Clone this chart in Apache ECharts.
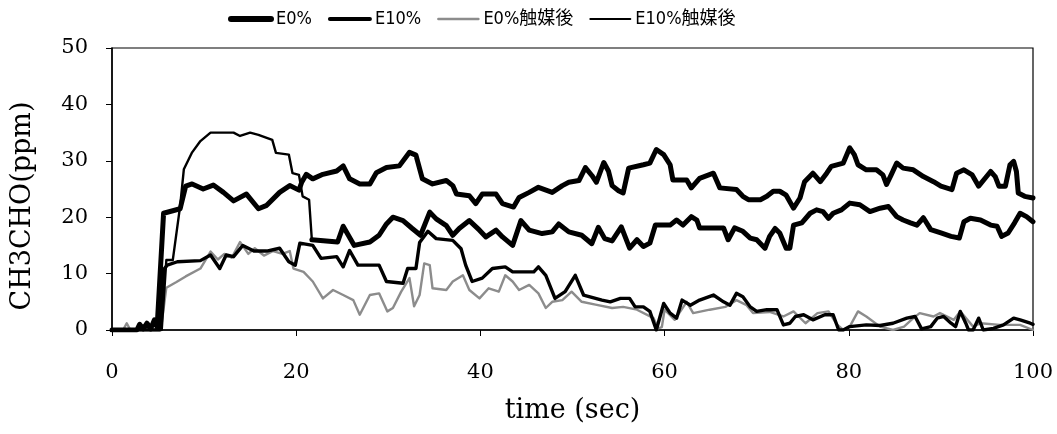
<!DOCTYPE html>
<html><head><meta charset="utf-8">
<script src="https://cdn.jsdelivr.net/npm/echarts@6/dist/echarts.min.js"></script>
<style>html,body{margin:0;padding:0;background:#fff}#c{width:1057px;height:434px}</style>
</head><body><div id="c"></div>
<script>
const seriesNames = ['E0%', 'E10%', 'E0%触媒後', 'E10%触媒後'];
const xTickInterval = 20;
const yTickInterval = 10;

// [time (sec), CH3CHO (ppm)]
const e0 = [[0,0],[2.7,0],[3.0,1.0],[3.4,0.2],[3.8,1.2],[4.2,0.2],[4.6,1.8],[4.9,0.5],[5.1,0.5],[5.6,20.7],[7.4,21.5],[8.0,25.5],[8.7,25.9],[9.9,25.0],[11.0,25.7],[12.1,24.4],[13.2,22.9],[14.6,24.1],[15.9,21.5],[16.8,22.1],[18.2,24.4],[19.3,25.6],[20.3,24.8],[20.6,26.2],[21.1,27.6],[21.8,26.8],[22.9,27.6],[24.4,28.2],[25.1,29.1],[25.8,26.8],[26.9,25.9],[28.0,25.9],[28.7,27.9],[29.8,28.8],[31.2,29.1],[32.3,31.5],[33.0,31.0],[33.7,26.8],[34.8,25.9],[36.3,26.5],[37.0,25.6],[37.4,24.1],[38.8,23.8],[39.5,22.4],[40.2,24.1],[41.7,24.1],[42.4,22.4],[43.6,21.8],[44.2,23.5],[45.3,24.4],[46.3,25.3],[47.8,24.4],[48.9,25.6],[49.6,26.2],[50.7,26.5],[51.4,28.8],[52.1,27.4],[52.6,26.2],[53.4,29.7],[53.9,28.2],[54.3,25.6],[55.0,24.7],[55.5,24.3],[56.1,28.7],[57.7,29.3],[58.4,29.6],[59.1,32.0],[59.9,31.1],[60.6,29.3],[60.9,26.6],[62.4,26.6],[62.9,25.2],[63.8,26.9],[65.3,27.8],[66.0,25.2],[67.8,24.9],[68.5,23.7],[69.1,23.1],[70.4,23.1],[71.1,23.7],[71.8,24.6],[72.5,24.6],[73.2,23.9],[74.0,21.6],[74.7,23.4],[75.2,26.3],[76.1,27.8],[76.9,26.3],[77.6,27.8],[78.1,29.0],[79.4,29.6],[80.1,32.3],[80.6,31.1],[81.0,29.3],[81.9,28.4],[83.0,28.4],[83.7,27.5],[84.1,25.8],[84.6,27.5],[85.2,29.6],[85.9,28.7],[87.0,28.4],[88.1,27.2],[89.2,26.3],[90.0,25.5],[91.2,24.9],[91.7,27.8],[92.5,28.4],[93.4,27.5],[94.1,25.5],[94.8,26.9],[95.4,28.1],[95.9,27.2],[96.3,25.5],[97.0,25.5],[97.5,29.3],[97.9,29.9],[98.2,28.1],[98.4,24.3],[99.1,23.7],[100,23.4]];

const e10 = [[0,0],[5.4,0],[5.9,12.4],[6.6,12.4],[7.4,22],[7.8,28.5],[8.7,31.5],[9.6,33.5],[10.7,35],[13.2,35],[13.9,34.4],[15.0,35],[15.9,34.6],[17.4,33.7],[17.8,31.4],[19.2,31.1],[19.6,27.8],[20.3,27.5],[20.7,23.7],[21.4,23.1],[21.7,16.0],[24.5,15.6],[25.1,18.4],[26.3,15.0],[28.0,15.6],[29.0,16.8],[29.8,18.8],[30.5,20.0],[31.6,19.4],[32.6,18.0],[33.5,16.8],[34.5,20.9],[35.2,19.7],[36.3,18.5],[37.0,16.8],[37.7,18.0],[38.8,19.4],[39.9,17.7],[40.6,16.5],[41.7,17.7],[42.4,16.5],[43.5,15.0],[44.4,19.4],[45.3,17.7],[46.7,17.1],[47.8,17.4],[48.5,18.8],[49.6,17.4],[51.0,16.8],[52.1,15.3],[52.8,18.2],[53.5,16.2],[54.3,15.8],[55.3,18.3],[56.2,14.5],[57.0,16.0],[57.7,14.8],[58.4,15.4],[59.0,18.6],[60.6,18.6],[61.3,19.5],[62.0,18.6],[62.9,20.1],[63.5,19.5],[63.8,18.1],[66.4,18.1],[66.9,16.0],[67.6,18.1],[68.5,17.5],[69.3,16.3],[70.0,16.0],[70.9,14.5],[71.4,16.6],[72.0,18.0],[72.5,17.2],[73.2,14.5],[73.6,14.5],[74.0,18.6],[74.9,19.0],[75.8,20.7],[76.5,21.3],[77.2,21.0],[77.8,19.8],[78.3,20.7],[79.2,21.3],[80.1,22.5],[81.2,22.2],[82.3,21.0],[83.4,21.6],[84.3,21.9],[85.2,20.1],[85.9,19.5],[86.7,19.0],[87.4,18.6],[88.1,19.9],[88.9,17.8],[90.0,17.2],[91.1,16.6],[92.0,16.3],[92.5,19.2],[93.2,19.8],[94.3,19.5],[95.4,18.6],[96.1,18.4],[96.6,16.6],[97.3,17.2],[98.0,19.0],[98.6,20.7],[99.3,20.1],[100,19.2]];

const e0Cat = [[0,0],[1.2,0],[1.6,1.2],[2.0,0],[5.3,0],[5.9,7.5],[7.0,8.5],[8.0,9.5],[9.6,10.9],[10.7,13.9],[11.5,12.5],[12.2,13.5],[13.0,12.8],[13.9,15.6],[14.8,13.5],[15.5,14.5],[16.5,13.2],[17.5,14.0],[18.5,13.5],[19.3,14.0],[19.7,10.9],[20.8,10.3],[21.8,8.6],[22.9,5.6],[24.0,7.1],[25.1,6.2],[26.2,5.3],[26.9,2.7],[28.0,6.2],[29.0,6.5],[29.9,3.3],[30.5,3.9],[31.4,6.8],[32.3,9.2],[32.8,4.2],[33.4,6.2],[33.9,11.8],[34.5,11.5],[34.8,7.4],[36.3,7.1],[37.0,8.6],[38.1,9.7],[38.8,7.1],[39.9,5.6],[40.9,7.4],[42.0,6.8],[42.7,9.7],[43.5,8.6],[44.2,7.1],[45.3,8.0],[46.3,6.5],[47.1,3.9],[47.8,5.0],[48.9,5.3],[49.9,6.8],[51.0,5.0],[52.5,4.5],[54.3,3.9],[55.5,4.1],[57.0,3.6],[58.8,2.1],[59.3,0.3],[59.7,0.5],[60.0,3.6],[61.1,1.8],[62.4,5.0],[63.1,3.0],[64.9,3.6],[66.6,4.1],[67.8,5.3],[68.9,4.4],[69.6,3.0],[71.4,3.2],[72.9,2.4],[74.0,3.3],[75.3,1.2],[76.6,3.0],[77.8,3.3],[78.7,1.0],[79.4,0],[80.1,0.6],[81.0,3.3],[81.9,2.4],[83.4,0.6],[84.8,0],[86.0,0.6],[87.0,2.1],[87.7,3.0],[89.2,2.4],[89.9,3.0],[91.4,1.8],[92.1,3.3],[93.5,0.6],[94.3,1.2],[96.4,0.9],[98.6,0.9],[100,0]];

const e10Cat = [[0,0],[5.2,0],[5.6,10.7],[6.0,11.5],[7.1,12.1],[9.6,12.3],[10.7,13.3],[11.7,10.9],[12.4,13.3],[13.2,13.0],[14.2,15.0],[15.4,14.0],[16.8,14.0],[18.2,14.5],[19.2,12.1],[19.9,11.5],[20.4,15.4],[21.8,15.0],[22.7,12.7],[24.4,13.0],[25.1,11.2],[25.8,14.1],[26.7,11.5],[29.0,11.5],[29.8,8.6],[31.6,8.3],[32.1,10.9],[33.0,10.9],[33.4,15.5],[34.3,17.5],[35.2,16.2],[37.0,15.9],[37.9,14.4],[38.4,11.5],[39.1,8.6],[40.2,9.2],[41.3,10.9],[42.7,11.2],[43.5,10.3],[45.8,10.3],[46.3,11.2],[47.1,9.7],[48.1,5.6],[49.2,6.8],[50.3,9.7],[51.2,6.2],[53.2,5.3],[54.1,5.0],[55.2,5.6],[56.2,5.6],[56.8,4.1],[57.7,4.1],[58.4,3.3],[59.1,0],[59.9,4.7],[60.6,3.0],[61.3,2.1],[61.9,5.3],[62.8,4.4],[63.8,5.3],[65.3,6.2],[66.4,5.0],[67.1,4.4],[67.8,6.5],[68.5,5.9],[69.3,4.1],[70.0,3.3],[71.1,3.6],[72.2,3.6],[72.9,0.9],[73.6,1.2],[74.2,2.4],[75.1,2.7],[76.1,1.8],[77.4,2.7],[78.3,2.7],[78.9,0],[79.4,0],[80.1,0.6],[81.9,0.9],[83.4,0.8],[84.8,1.2],[86.3,2.1],[87.2,2.4],[87.9,0.2],[88.9,0.6],[89.6,2.1],[90.3,2.4],[91.1,1.2],[91.6,0.6],[92.1,3.3],[92.7,1.2],[93.0,0],[93.5,0],[94.1,2.1],[94.6,0],[95.7,0.3],[96.8,0.9],[97.9,2.1],[98.6,1.8],[99.7,1.2],[100,1.0]];

const serifFont = "'DejaVu Serif', 'Liberation Serif', serif";
const legendFont = "'DejaVu Sans Condensed', 'Liberation Sans Narrow', 'Noto Sans CJK JP', sans-serif";
const splitT = 21.7;
const e10Early = e10.filter(p => p[0] <= splitT);
const e10Late = e10.filter(p => p[0] >= splitT);

const chart = echarts.init(document.getElementById('c'), null, {renderer: 'canvas'});
function lineSeries(name, data, color, width, z) {
  return {
    name: name, type: 'line', data: data, symbol: 'none', z: z,
    lineStyle: {color: color, width: width, join: 'round', cap: 'round'},
    itemStyle: {color: color}, animation: false
  };
}
const hiddenMark = {color: 'rgba(0,0,0,0)', borderWidth: 0, opacity: 0};
chart.setOption({
  backgroundColor: '#fff',
  animation: false,
  legend: {
    left: 228, top: 10, padding: 0, itemWidth: 40, itemHeight: 14, itemGap: 16,
    textStyle: {fontFamily: legendFont, fontSize: 18, color: '#000'},
    itemStyle: hiddenMark,
    data: [
      {name: seriesNames[0], lineStyle: {width: 6, color: '#000'}, itemStyle: hiddenMark},
      {name: seriesNames[1], lineStyle: {width: 4, color: '#000'}, itemStyle: hiddenMark},
      {name: seriesNames[2], lineStyle: {width: 2.5, color: '#8c8c8c'}, itemStyle: hiddenMark},
      {name: seriesNames[3], lineStyle: {width: 2, color: '#000'}, itemStyle: hiddenMark}
    ]
  },
  grid: {left: 112, right: 24, top: 48, bottom: 104, show: true, borderColor: '#000', borderWidth: 1.2, backgroundColor: 'transparent'},
  xAxis: {
    type: 'value', min: 0, max: 100, interval: xTickInterval,
    name: 'time (sec)', nameLocation: 'middle', nameGap: 67,
    nameTextStyle: {fontFamily: serifFont, fontSize: 27, color: '#000'},
    axisLine: {show: true, lineStyle: {color: '#000', width: 1.5}},
    axisTick: {show: true, inside: false, length: 6, lineStyle: {color: '#000'}},
    axisLabel: {margin: 32, fontFamily: serifFont, fontSize: 21, color: '#000'},
    splitLine: {show: false}
  },
  yAxis: {
    type: 'value', min: 0, max: 50, interval: yTickInterval,
    axisLine: {show: true, lineStyle: {color: '#000', width: 1.5}},
    axisTick: {show: true, inside: false, length: 6, lineStyle: {color: '#000'}},
    axisLabel: {margin: 24, fontFamily: serifFont, fontSize: 21, color: '#000'},
    splitLine: {show: false}
  },
  graphic: [{
    type: 'text', x: 23, y: 206, rotation: Math.PI / 2,
    style: {text: 'CH3CHO(ppm)', font: "27px 'DejaVu Serif', serif", fill: '#000',
      align: 'center', verticalAlign: 'middle', textAlign: 'center', textVerticalAlign: 'middle'}
  }],
  series: [
    lineSeries(seriesNames[2], e0Cat, '#8c8c8c', 2.4, 1),
    lineSeries(seriesNames[3], e10Cat, '#000', 3.4, 2),
    lineSeries(seriesNames[1], e10Early, '#000', 2.4, 3),
    lineSeries(seriesNames[1], e10Late, '#000', 5, 3),
    lineSeries(seriesNames[0], e0, '#000', 5, 4)
  ]
});
</script></body></html>
